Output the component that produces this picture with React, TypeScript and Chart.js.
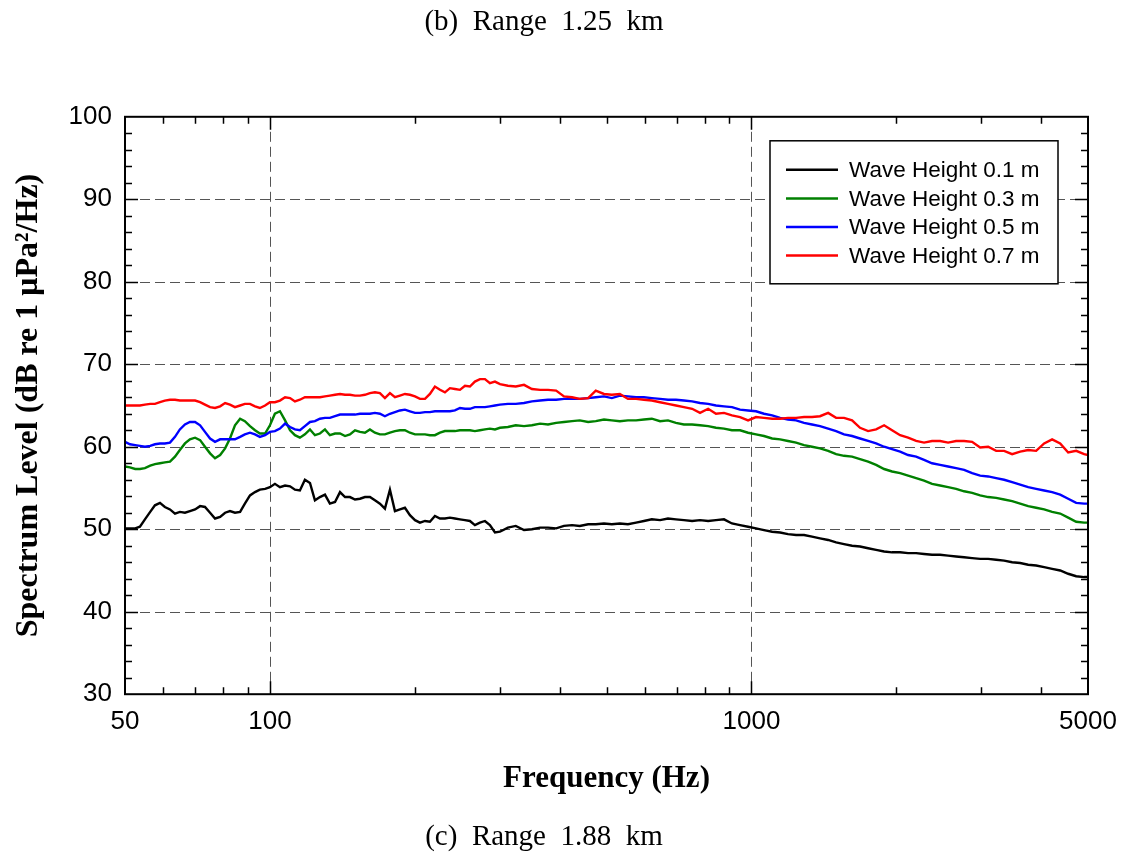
import { useEffect, useRef } from 'react';
import { Chart, registerables } from 'chart.js';

Chart.register(...registerables);

// Frequencies (Hz) read along the log axis
const frequencies = [
  50.0, 51.2, 52.5, 53.7, 55.0, 56.4, 57.7, 59.1, 60.5, 62.0,
  63.5, 65.0, 66.6, 68.2, 69.9, 71.6, 73.3, 75.1, 76.9, 78.8,
  80.7, 82.6, 84.6, 86.7, 88.7, 90.9, 93.1, 95.3, 97.7, 100.0,
  102.4, 104.9, 107.5, 110.1, 112.7, 115.4, 118.2, 121.1, 124.0, 127.0,
  130.1, 133.2, 136.5, 139.8, 143.2, 146.6, 150.2, 153.8, 157.5, 161.3,
  165.2, 169.2, 173.3, 177.5, 181.8, 186.2, 190.7, 195.3, 200.1, 204.9,
  209.9, 214.9, 220.1, 225.5, 230.9, 236.5, 242.2, 248.1, 254.1, 260.2,
  266.5, 273.0, 279.6, 286.3, 293.3, 300.4,
  312, 324, 337, 350, 364, 378, 393, 408, 424, 440,
  458, 475, 494, 513, 533, 554, 576, 598, 621, 646,
  671, 697, 724, 753, 782, 813, 844, 877, 911, 947,
  984, 1022, 1062, 1104, 1147, 1191, 1238, 1286, 1336, 1388,
  1443, 1499, 1557, 1618, 1681, 1747, 1815, 1886, 1959, 2036,
  2115, 2198, 2283, 2372, 2465, 2561, 2661, 2765, 2873, 2985,
  3102, 3223, 3348, 3479, 3615, 3756, 3902, 4054, 4212, 4377,
  4548, 4725, 4909, 5000,
];

const waveHeight01 = [
  50.1, 50.1, 50.1, 50.3, 51.2, 52.1, 52.9, 53.2, 52.7, 52.4,
  51.9, 52.1, 52.0, 52.2, 52.4, 52.8, 52.7, 52.0, 51.3, 51.5,
  52.0, 52.2, 52.0, 52.1, 53.1, 54.1, 54.5, 54.8, 54.9, 55.1,
  55.5, 55.1, 55.3, 55.2, 54.8, 54.7, 56.0, 55.6, 53.5, 53.9,
  54.2, 53.1, 53.3, 54.5, 53.9, 53.9, 53.6, 53.7, 53.9, 53.9,
  53.5, 53.1, 52.5, 54.8, 52.2, 52.4, 52.6, 51.7, 51.1, 50.8,
  51.0, 50.9, 51.6, 51.3, 51.3, 51.4, 51.3, 51.2, 51.1, 51.0,
  50.5, 50.8, 51.0, 50.5, 49.6, 49.7,
  50.2, 50.4, 49.9, 50.0, 50.2, 50.2, 50.1, 50.4, 50.5, 50.4,
  50.6, 50.6, 50.7, 50.6, 50.7, 50.6, 50.8, 51.0, 51.2, 51.1,
  51.3, 51.2, 51.1, 51.0, 51.1, 51.0, 51.1, 51.2, 50.7, 50.5,
  50.3, 50.1, 49.9, 49.7, 49.6, 49.4, 49.3, 49.3, 49.1, 48.9,
  48.7, 48.4, 48.2, 48.0, 47.9, 47.7, 47.5, 47.3, 47.2, 47.2,
  47.1, 47.1, 47.0, 46.9, 46.9, 46.8, 46.7, 46.6, 46.5, 46.4,
  46.4, 46.3, 46.2, 46.0, 45.9, 45.7, 45.6, 45.4, 45.2, 45.0,
  44.6, 44.3, 44.2, 44.2,
];

const waveHeight03 = [
  57.6, 57.5, 57.3, 57.3, 57.4, 57.7, 57.9, 58.0, 58.1, 58.2,
  58.8, 59.6, 60.4, 60.9, 61.1, 60.8, 60.0, 59.2, 58.6, 59.0,
  59.8, 61.0, 62.6, 63.4, 63.1, 62.5, 62.0, 61.6, 61.6, 62.6,
  64.0, 64.3, 63.2, 62.0, 61.4, 61.1, 61.5, 62.1, 61.4, 61.6,
  62.1, 61.4, 61.6, 61.6, 61.3, 61.5, 62.0, 61.8, 61.7, 62.1,
  61.7, 61.5, 61.5, 61.7, 61.9, 62.0, 62.0, 61.7, 61.5, 61.5,
  61.5, 61.4, 61.4, 61.7, 61.9, 61.9, 61.9, 62.0, 62.0, 62.0,
  61.9, 62.0, 62.1, 62.2, 62.1, 62.3,
  62.4, 62.6, 62.5, 62.6, 62.8, 62.7, 62.9, 63.0, 63.1, 63.2,
  63.0, 63.1, 63.3, 63.2, 63.1, 63.2, 63.2, 63.3, 63.4, 63.1,
  63.2, 62.9, 62.7, 62.7, 62.6, 62.5, 62.3, 62.2, 62.0, 62.0,
  61.7, 61.5, 61.3, 61.0, 60.9, 60.7, 60.5, 60.2, 60.0, 59.8,
  59.5, 59.1, 58.9, 58.8, 58.5, 58.2, 57.8, 57.3, 57.0, 56.8,
  56.5, 56.2, 55.9, 55.5, 55.3, 55.1, 54.9, 54.6, 54.4, 54.1,
  53.9, 53.8, 53.6, 53.4, 53.1, 52.8, 52.6, 52.4, 52.1, 51.9,
  51.4, 50.9, 50.8, 50.8,
];

const waveHeight05 = [
  60.6, 60.3, 60.2, 60.1, 60.0, 60.1, 60.3, 60.4, 60.4, 60.5,
  61.2, 62.1, 62.7, 63.0, 63.0, 62.6, 61.8, 61.0, 60.6, 60.9,
  60.9, 60.9, 60.9, 61.2, 61.5, 61.7, 61.5, 61.2, 61.4, 61.8,
  61.9, 62.2, 62.8, 62.4, 62.1, 62.0, 62.5, 63.0, 63.1, 63.4,
  63.5, 63.5, 63.7, 63.9, 63.9, 63.9, 63.9, 64.0, 64.0, 64.0,
  64.1, 64.0, 63.7, 64.0, 64.2, 64.4, 64.5, 64.3, 64.1, 64.1,
  64.2, 64.2, 64.3, 64.3, 64.3, 64.3, 64.4, 64.7, 64.6, 64.6,
  64.8, 64.8, 64.8, 64.9, 65.0, 65.1,
  65.2, 65.2, 65.3, 65.5, 65.6, 65.7, 65.7, 65.8, 65.8, 65.8,
  65.9, 66.0, 66.1, 65.9, 66.2, 66.1, 66.0, 66.0, 65.9, 65.8,
  65.7, 65.7, 65.6, 65.5, 65.3, 65.2, 65.0, 64.9, 64.8, 64.5,
  64.4, 64.3, 64.0, 63.8, 63.5, 63.3, 63.2, 62.9, 62.7, 62.5,
  62.2, 61.9, 61.5, 61.3, 61.0, 60.7, 60.4, 60.0, 59.7, 59.4,
  59.0, 58.8, 58.4, 58.0, 57.8, 57.6, 57.4, 57.2, 56.8, 56.5,
  56.4, 56.2, 56.0, 55.7, 55.4, 55.1, 54.9, 54.7, 54.5, 54.2,
  53.7, 53.2, 53.1, 53.1,
];

const waveHeight07 = [
  65.0, 65.0, 65.0, 65.0, 65.1, 65.2, 65.2, 65.4, 65.6, 65.7,
  65.7, 65.6, 65.6, 65.6, 65.6, 65.4, 65.1, 64.8, 64.7, 64.9,
  65.3, 65.1, 64.8, 65.0, 65.2, 65.2, 64.9, 64.7, 65.0, 65.4,
  65.4, 65.6, 66.0, 65.9, 65.5, 65.7, 66.0, 66.0, 66.0, 66.0,
  66.1, 66.2, 66.3, 66.4, 66.3, 66.3, 66.2, 66.2, 66.3, 66.5,
  66.6, 66.5, 65.9, 66.5, 66.0, 66.2, 66.4, 66.3, 66.1, 65.8,
  65.8, 66.4, 67.3, 66.9, 66.6, 67.1, 67.0, 66.9, 67.4, 67.3,
  67.9, 68.2, 68.2, 67.7, 67.9, 67.6,
  67.4, 67.3, 67.5, 67.0, 66.9, 66.9, 66.8, 66.1, 66.0, 65.8,
  65.9, 66.8, 66.4, 66.3, 66.4, 65.8, 65.8, 65.7, 65.6, 65.4,
  65.2, 65.0, 64.8, 64.6, 64.1, 64.6, 64.0, 64.1, 63.8, 63.6,
  63.2, 63.6, 63.5, 63.4, 63.4, 63.5, 63.5, 63.6, 63.6, 63.7,
  64.1, 63.5, 63.5, 63.2, 62.3, 61.9, 62.1, 62.6, 62.0, 61.4,
  61.1, 60.7, 60.5, 60.7, 60.7, 60.5, 60.7, 60.7, 60.6, 59.9,
  60.0, 59.5, 59.5, 59.1, 59.4, 59.6, 59.5, 60.4, 60.9, 60.4,
  59.3, 59.5, 59.1, 59.0,
];

const seriesLabels = ['Wave Height 0.1 m', 'Wave Height 0.3 m', 'Wave Height 0.5 m', 'Wave Height 0.7 m'];
const seriesColors = ['#000000', '#008000', '#0000ff', '#ff0000'];
const seriesValues = [waveHeight01, waveHeight03, waveHeight05, waveHeight07];

const xTickLabels = [50, 100, 1000, 5000];
const xGridValues = [100, 1000];
const xMinorTicks = [60, 70, 80, 90, 200, 300, 400, 500, 600, 700, 800, 900, 2000, 3000, 4000];
const yGridValues = [40, 50, 60, 70, 80, 90];
const yMinorTicks = [32, 34, 36, 38, 42, 44, 46, 48, 52, 54, 56, 58, 62, 64, 66, 68, 72, 74, 76, 78, 82, 84, 86, 88, 92, 94, 96, 98];

const SERIF = '"Liberation Serif", "Times New Roman", serif';
const SANS = '"Liberation Sans", Arial, sans-serif';

const framePlugin = {
  id: 'frame',
  beforeDatasetsDraw(chart: any) {
    const { ctx, chartArea: a, scales } = chart;
    const x = scales.x;
    const y = scales.y;
    ctx.save();
    ctx.strokeStyle = '#555555';
    ctx.lineWidth = 1;
    ctx.setLineDash([10, 5]);
    for (const v of yGridValues) {
      const p = Math.round(y.getPixelForValue(v)) + 0.5;
      ctx.beginPath();
      ctx.moveTo(a.left, p);
      ctx.lineTo(a.right, p);
      ctx.stroke();
    }
    for (const v of xGridValues) {
      const p = Math.round(x.getPixelForValue(v)) + 0.5;
      ctx.beginPath();
      ctx.moveTo(p, a.top);
      ctx.lineTo(p, a.bottom);
      ctx.stroke();
    }
    ctx.restore();
  },
  afterDatasetsDraw(chart: any) {
    const { ctx, chartArea: a, scales } = chart;
    const x = scales.x;
    const y = scales.y;
    ctx.save();
    ctx.strokeStyle = '#000000';
    ctx.lineWidth = 1.5;
    const major = 13;
    const minor = 7;
    const drawY = (v: number, len: number) => {
      const p = Math.round(y.getPixelForValue(v)) + 0.5;
      ctx.beginPath();
      ctx.moveTo(a.left, p);
      ctx.lineTo(a.left + len, p);
      ctx.moveTo(a.right, p);
      ctx.lineTo(a.right - len, p);
      ctx.stroke();
    };
    const drawX = (v: number, len: number) => {
      const p = Math.round(x.getPixelForValue(v)) + 0.5;
      ctx.beginPath();
      ctx.moveTo(p, a.bottom);
      ctx.lineTo(p, a.bottom - len);
      ctx.moveTo(p, a.top);
      ctx.lineTo(p, a.top + len);
      ctx.stroke();
    };
    yMinorTicks.forEach((v) => drawY(v, minor));
    yGridValues.forEach((v) => drawY(v, major));
    xMinorTicks.forEach((v) => drawX(v, minor));
    xGridValues.forEach((v) => drawX(v, major));
    ctx.lineWidth = 2;
    ctx.strokeRect(a.left, a.top, a.right - a.left, a.bottom - a.top);
    ctx.restore();
  },
  afterDraw(chart: any) {
    const { ctx, chartArea: a } = chart;
    const w = 288;
    const h = 143;
    const left = a.right - 30 - w;
    const top = a.top + 24;
    ctx.save();
    ctx.fillStyle = '#ffffff';
    ctx.fillRect(left, top, w, h);
    ctx.strokeStyle = '#000000';
    ctx.lineWidth = 1.5;
    ctx.strokeRect(left, top, w, h);
    ctx.font = `22.5px ${SANS}`;
    ctx.textBaseline = 'middle';
    ctx.textAlign = 'left';
    chart.data.datasets.forEach((ds: any, i: number) => {
      const rowY = top + 29 + i * 28.6;
      ctx.strokeStyle = ds.borderColor;
      ctx.lineWidth = 2.5;
      ctx.beginPath();
      ctx.moveTo(left + 16, rowY);
      ctx.lineTo(left + 68, rowY);
      ctx.stroke();
      ctx.fillStyle = '#000000';
      ctx.fillText(ds.label, left + 79, rowY + 1);
    });
    ctx.restore();
  },
};

export default function App() {
  const canvasRef = useRef<HTMLCanvasElement | null>(null);

  useEffect(() => {
    document.body.style.margin = '0';
    const canvas = canvasRef.current;
    if (!canvas) return;
    const datasets = seriesValues.map((vals, i) => ({
      label: seriesLabels[i],
      data: frequencies.map((f, j) => ({ x: f, y: vals[j] })),
      borderColor: seriesColors[i],
      backgroundColor: seriesColors[i],
      borderWidth: 2.4,
      pointRadius: 0,
      tension: 0,
      fill: false,
      order: 3 - i,
    }));
    const chart = new Chart(canvas, {
      type: 'line',
      data: { datasets },
      options: {
        responsive: false,
        animation: false,
        devicePixelRatio: 1,
        layout: { padding: { left: 0, right: 38, top: 0, bottom: 0 } },
        plugins: {
          legend: { display: false },
          tooltip: { enabled: false },
          title: {
            display: true,
            text: '(b)  Range  1.25  km',
            color: '#000000',
            font: { family: SERIF, size: 29, weight: 'normal' },
            padding: { top: 5, bottom: 77 },
          },
          subtitle: {
            display: true,
            position: 'bottom',
            text: '(c)  Range  1.88  km',
            color: '#000000',
            font: { family: SERIF, size: 29, weight: 'normal' },
            padding: { top: 16, bottom: 0 },
          },
        },
        scales: {
          x: {
            type: 'logarithmic',
            min: 50,
            max: 5000,
            grid: { display: false, drawTicks: false },
            border: { display: false },
            afterBuildTicks: (scale: any) => {
              scale.ticks = xTickLabels.map((v) => ({ value: v }));
            },
            afterFit: (scale: any) => {
              scale.height = 110;
              scale.paddingLeft = 0;
              scale.paddingRight = 0;
            },
            ticks: {
              autoSkip: false,
              maxRotation: 0,
              minRotation: 0,
              padding: 12,
              color: '#000000',
              font: { family: SANS, size: 26 },
              callback: (v: any) => String(v),
            },
            title: {
              display: true,
              text: 'Frequency (Hz)',
              color: '#000000',
              font: { family: SERIF, size: 31, weight: 'bold' },
              padding: { top: 0, bottom: 7 },
            },
          },
          y: {
            type: 'linear',
            min: 30,
            max: 100,
            grid: { display: false, drawTicks: false },
            border: { display: false },
            afterFit: (scale: any) => {
              scale.width = 125;
            },
            ticks: {
              stepSize: 10,
              padding: 13,
              color: '#000000',
              font: { family: SANS, size: 26 },
            },
            title: {
              display: true,
              text: 'Spectrum Level (dB re 1 μPa²/Hz)',
              color: '#000000',
              font: { family: SERIF, size: 32, weight: 'bold' },
              padding: { top: 10, bottom: 0 },
            },
          },
        },
      },
      plugins: [framePlugin],
    } as any);
    return () => chart.destroy();
  }, []);

  return (
    <div style={{ position: 'absolute', left: 0, top: 0, width: 1126, height: 855, background: '#ffffff' }}>
      <canvas ref={canvasRef} width={1126} height={855} />
    </div>
  );
}
